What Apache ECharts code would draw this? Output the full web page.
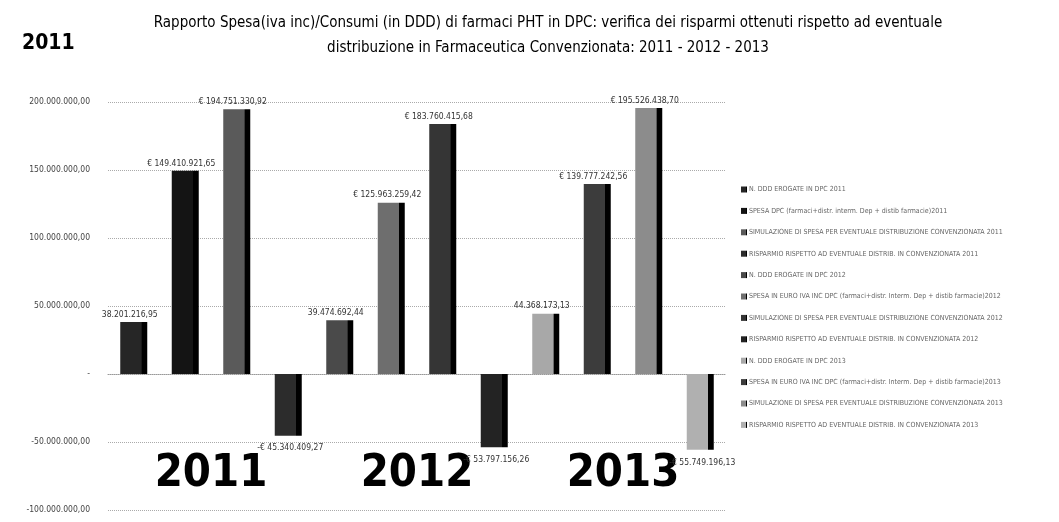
<!DOCTYPE html>
<html>
<head>
<meta charset="utf-8">
<script src="https://cdn.jsdelivr.net/npm/echarts@6/dist/echarts.min.js"></script>
<style>
html,body{margin:0;padding:0;background:#fff;}
#chart{width:1059px;height:522px;}
</style>
</head>
<body>
<div id="chart"></div>
<script>
// serie (voci di legenda) e valori
const seriesNames = [
  'N. DDD EROGATE IN DPC 2011',
  'SPESA DPC (farmaci+distr. interm. Dep + distib farmacie)2011',
  'SIMULAZIONE DI SPESA PER EVENTUALE DISTRIBUZIONE CONVENZIONATA 2011',
  'RISPARMIO RISPETTO AD EVENTUALE DISTRIB. IN CONVENZIONATA 2011',
  'N. DDD EROGATE IN DPC 2012',
  'SPESA IN EURO IVA INC DPC (farmaci+distr. Interm. Dep + distib farmacie)2012',
  'SIMULAZIONE DI SPESA PER EVENTUALE DISTRIBUZIONE CONVENZIONATA 2012',
  'RISPARMIO RISPETTO AD EVENTUALE DISTRIB. IN CONVENZIONATA 2012',
  'N. DDD EROGATE IN DPC 2013',
  'SPESA IN EURO IVA INC DPC (farmaci+distr. Interm. Dep + distib farmacie)2013',
  'SIMULAZIONE DI SPESA PER EVENTUALE DISTRIBUZIONE CONVENZIONATA 2013',
  'RISPARMIO RISPETTO AD EVENTUALE DISTRIB. IN CONVENZIONATA 2013'
];
const values = [
  38201216.95, 149410921.65, 194751330.92, -45340409.27,
  39474692.44, 125963259.42, 183760415.68, -53797156.26,
  44368173.13, 139777242.56, 195526438.70, -55749196.13
];
// le serie N. DDD non sono in euro
const isEuro = [false, true, true, true, false, true, true, true, false, true, true, true];
const years = ['2011', '2012', '2013'];
const yTicks = [-100000000, -50000000, 0, 50000000, 100000000, 150000000, 200000000];

const barColors = ['#262626','#141414','#5a5a5a','#2c2c2c','#4a4a4a','#6e6e6e',
                   '#353535','#232323','#a8a8a8','#3c3c3c','#8c8c8c','#b0b0b0'];
const FONT = 'DejaVu Sans Condensed, sans-serif';

function fmtIt(v){
  const neg = v < 0;
  const parts = Math.abs(v).toFixed(2).split('.');
  const intp = parts[0].replace(/\B(?=(\d{3})+(?!\d))/g, '.');
  return (neg ? '-' : '') + intp + ',' + parts[1];
}

const mCharts = echarts.init(document.getElementById('chart'));

const series = seriesNames.map((name, i) => {
  const data = seriesNames.map(() => null);
  data[i] = values[i];
  const c = barColors[i];
  return {
    name: name,
    type: 'bar',
    xAxisIndex: 0,
    barWidth: 27,
    barGap: '-100%',
    data: data,
    itemStyle: {
      color: new echarts.graphic.LinearGradient(0, 0, 1, 0, [
        {offset: 0, color: c},
        {offset: 0.78, color: c},
        {offset: 0.8, color: '#000'},
        {offset: 1, color: '#000'}
      ])
    },
    label: {
      show: true,
      position: values[i] < 0 ? 'bottom' : 'top',
      distance: values[i] < 0 ? 8 : 3,
      offset: values[i] < 0 ? [2, 0] : [-4, 0],
      fontSize: 8.5,
      color: '#333',
      fontFamily: FONT,
      formatter: (p) => {
        const v = p.value;
        if (!isEuro[i]) return fmtIt(v);
        return v < 0 ? '-€ ' + fmtIt(-v) : '€ ' + fmtIt(v);
      }
    }
  };
});

const option = {
  backgroundColor: '#fff',
  animation: false,
  title: [
    {
      text: '2011',
      left: 17, top: 28,
      textStyle: {fontSize: 21, fontWeight: 'bold', color: '#000', fontFamily: FONT}
    },
    {
      text: 'Rapporto Spesa(iva inc)/Consumi (in DDD) di farmaci PHT in DPC: verifica dei risparmi ottenuti rispetto ad eventuale\ndistribuzione in Farmaceutica Convenzionata: 2011 - 2012 - 2013',
      left: 543, top: 6, textAlign: 'center',
      textStyle: {fontSize: 15, fontWeight: 'normal', color: '#000', lineHeight: 25, fontFamily: FONT}
    }
  ],
  legend: {
    orient: 'vertical',
    left: 736, top: 181,
    itemWidth: 6, itemHeight: 6,
    itemGap: 14.4,
    icon: 'rect',
    textStyle: {fontSize: 7, color: '#666', padding: [0, 0, 0, -3], fontFamily: FONT},
    data: seriesNames
  },
  grid: {left: 108, right: 333, top: 102, bottom: 12},
  xAxis: [
    {
      type: 'category',
      data: seriesNames,
      axisLabel: {show: false},
      axisTick: {show: false},
      axisLine: {show: true, onZero: true, lineStyle: {color: '#999', type: 'dotted'}}
    },
    {
      type: 'category',
      data: years,
      position: 'bottom',
      offset: -58,
      axisLine: {show: false},
      axisTick: {show: false},
      axisLabel: {margin: 0, fontSize: 45, fontWeight: 'bold', color: '#000', fontFamily: FONT}
    }
  ],
  yAxis: {
    type: 'value',
    min: -100000000, max: 200000000, interval: 50000000,
    axisLine: {show: false},
    axisTick: {show: false},
    splitLine: {lineStyle: {color: '#aaa', type: 'dotted'}},
    axisLabel: {
      margin: 18,
      fontSize: 8.5,
      color: '#444',
      fontFamily: FONT,
      formatter: (v) => (v === 0 ? '-' : (yTicks.indexOf(v) >= 0 ? fmtIt(v) : ''))
    }
  },
  series: series
};

mCharts.setOption(option);
</script>
</body>
</html>
